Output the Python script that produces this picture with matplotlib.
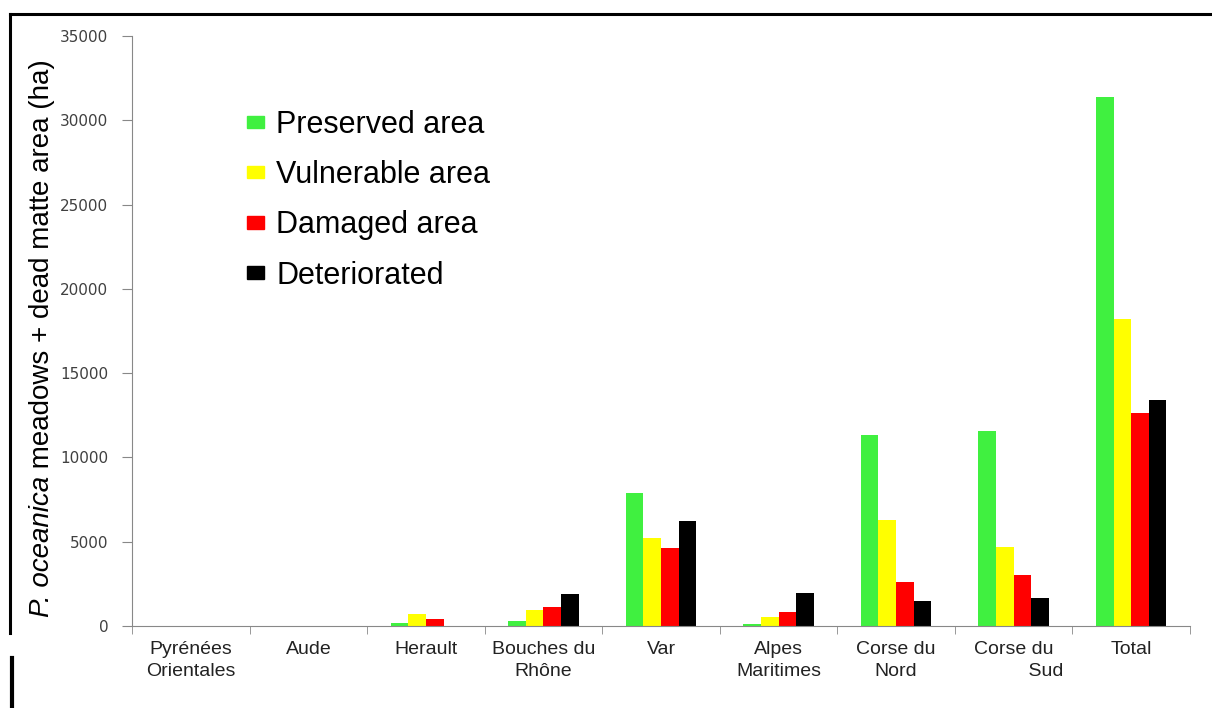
import matplotlib.pyplot as plt
from matplotlib.patches import Patch
from matplotlib.lines import Line2D
import numpy as np

plt.rcParams['font.family'] = ['Liberation Sans', 'DejaVu Sans']

regions = ["Pyrénées\nOrientales", "Aude", "Herault", "Bouches du\nRhône", "Var",
           "Alpes\nMaritimes", "Corse du\nNord", "Corse du\n            Sud", "Total"]

preserved = [0, 0, 160, 310, 7910, 140, 11330, 11590, 31380]
vulnerable = [0, 0, 690, 950, 5200, 520, 6270, 4690, 18240]
damaged = [0, 0, 400, 1110, 4610, 850, 2590, 3025, 12620]
deteriorated = [0, 0, 0, 1900, 6250, 1975, 1465, 1640, 13430]

series = [("Preserved area", preserved, "#40F040"),
          ("Vulnerable area", vulnerable, "#FFFF00"),
          ("Damaged area", damaged, "#FF0000"),
          ("Deteriorated", deteriorated, "#000000")]

fig = plt.figure(figsize=(12.12, 7.08), dpi=100)
ax = fig.add_axes([132/1212, 1-626/708, (1190-132)/1212, (626-36)/708])

x = np.arange(len(regions))
w = 0.15
for i, (name, vals, col) in enumerate(series):
    ax.bar(x + (i - 1.5) * w, vals, w, color=col, label=name)

ax.set_xlim(-0.5, len(regions) - 0.5)
ax.set_ylim(0, 35000)
ax.set_yticks(np.arange(0, 35001, 5000))
ax.set_yticklabels([str(v) for v in range(0, 35001, 5000)], family='DejaVu Sans',
                   fontsize=11, color='#404040')
ax.set_xticks(x)
ax.set_xticklabels(regions, fontsize=14, color='#222222', linespacing=1.35)
ax.set_xticks(np.arange(-0.5, len(regions)), minor=True)
ax.tick_params(axis='x', which='major', length=0, pad=11)
ax.tick_params(axis='x', which='minor', length=6, color='#888888', direction='out')
ax.tick_params(axis='y', length=7, color='#888888', pad=10)

for s in ['top', 'right']:
    ax.spines[s].set_visible(False)
for s in ['left', 'bottom']:
    ax.spines[s].set_color('#888888')

# y label: italic species name followed by regular text, stacked bottom to top
lab_x = 55 / 1212
lab_bottom = 1 - 617 / 708
t1 = fig.text(lab_x, lab_bottom, "P. oceanica", rotation=90, fontsize=20,
              style='italic', ha='left', va='bottom', rotation_mode='anchor')
fig.canvas.draw()
bb = t1.get_window_extent()
t2 = fig.text(lab_x, bb.y1 / 708, " meadows + dead matte area (ha)", rotation=90,
              fontsize=20, ha='left', va='bottom', rotation_mode='anchor')

handles = [Patch(color=c, label=n) for n, _, c in series]
ax.legend(handles=handles, loc='upper left', bbox_to_anchor=(247/1212, 1-110/708),
          bbox_transform=fig.transFigure, frameon=False, fontsize=22,
          handlelength=0.55, handleheight=0.25, handletextpad=0.4,
          labelspacing=0.66, borderpad=0, borderaxespad=0)

# screenshot frame
fig.add_artist(Line2D([10/1212, 1], [1-14/708, 1-14/708], color='black', lw=2.2,
                      transform=fig.transFigure))
fig.add_artist(Line2D([10/1212, 10/1212], [1-14/708, 1-633/708], color='black', lw=2.2,
                      transform=fig.transFigure))
fig.add_artist(Line2D([12/1212, 12/1212], [1-658/708, 0], color='black', lw=3,
                      transform=fig.transFigure))

fig.savefig("out.png", dpi=100, facecolor='white')
